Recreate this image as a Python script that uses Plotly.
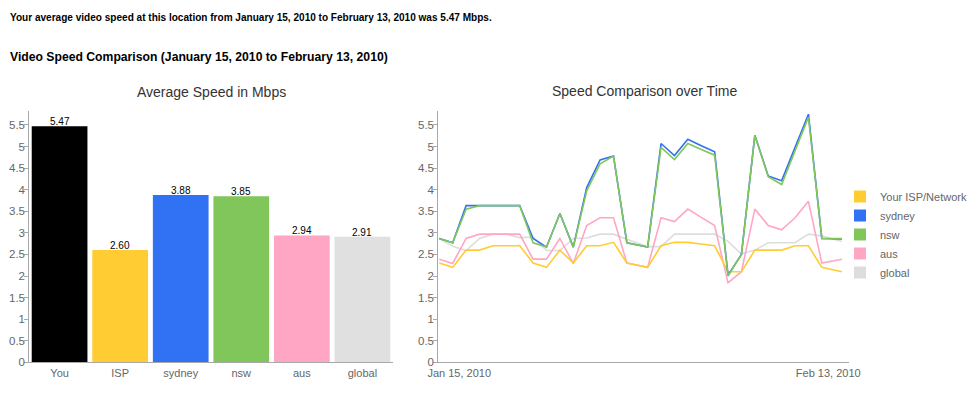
import plotly.graph_objects as go

# ---------------- data ----------------
categories = ["You", "ISP", "sydney", "nsw", "aus", "global"]
avg_speed = [5.47, 2.60, 3.88, 3.85, 2.94, 2.91]
bar_colors = ["#000000", "#FFCC33", "#3072F3", "#80C65A", "#FFA6C5", "#E0E0E0"]

# day offsets from Jan 15, 2010 (spacing is irregular)
day_offset = [0, 1, 2, 3, 4, 5, 6, 7, 8, 9, 10, 11, 12, 13, 14,
              15.55, 16.55, 17.55, 18.55, 19.55, 20.55, 21.55, 22.55, 23.55,
              24.55, 25.55, 26.55, 27.55, 28.55, 30.05]

isp = [2.30, 2.20, 2.60, 2.60, 2.70, 2.70, 2.70, 2.30, 2.20, 2.60,
       2.30, 2.70, 2.70, 2.78, 2.30, 2.20, 2.70, 2.78, 2.78, 2.74,
       2.70, 2.10, 2.10, 2.60, 2.60, 2.60, 2.70, 2.70, 2.20, 2.10]
sydney = [2.87, 2.77, 3.63, 3.63, 3.63, 3.63, 3.63, 2.87, 2.67, 3.45,
          2.67, 4.05, 4.69, 4.78, 2.77, 2.67, 5.07, 4.79, 5.17, 5.02,
          4.88, 2.02, 2.50, 5.26, 4.32, 4.21, 5.00, 5.75, 2.87, 2.86]
nsw = [2.87, 2.77, 3.55, 3.63, 3.63, 3.63, 3.63, 2.77, 2.67, 3.45,
       2.67, 3.97, 4.60, 4.78, 2.77, 2.67, 4.98, 4.70, 5.07, 4.93,
       4.80, 2.00, 2.50, 5.26, 4.30, 4.12, 4.90, 5.68, 2.87, 2.87]
aus = [2.39, 2.29, 2.87, 2.97, 2.97, 2.97, 2.97, 2.39, 2.39, 2.87,
       2.29, 3.17, 3.35, 3.35, 2.30, 2.20, 3.35, 3.26, 3.55, 3.36,
       3.17, 1.84, 2.10, 3.55, 3.17, 3.07, 3.35, 3.73, 2.30, 2.39]
global_ = [2.87, 2.69, 2.59, 2.87, 2.97, 2.97, 2.89, 2.90, 2.59, 2.59,
           2.87, 2.88, 2.97, 2.97, 2.85, 2.68, 2.68, 2.97, 2.97, 2.97,
           2.97, 2.80, 2.51, 2.60, 2.77, 2.77, 2.77, 2.97, 2.93, 2.80]

series_names = ["Your ISP/Network", "sydney", "nsw", "aus", "global"]
series_values = [isp, sydney, nsw, aus, global_]
series_colors = ["#FFCC33", "#3072F3", "#80C65A", "#FFA6C5", "#DDDDDD"]
draw_order = [4, 3, 0, 1, 2]  # global, aus, ISP, sydney, nsw

time_tickvals = [1.49, 29.03]
time_ticktext = ["Jan 15, 2010", "Feb 13, 2010"]

summary_text = ("Your average video speed at this location from January 15, 2010 "
                "to February 13, 2010 was 5.47 Mbps.")
heading_text = "Video Speed Comparison (January 15, 2010 to February 13, 2010)"
left_title = "Average Speed in Mbps"
right_title = "Speed Comparison over Time"

# ---------------- figure ----------------
FONT = "Liberation Sans, Arial, sans-serif"
OFF = 8                      # page body margin of the generated html
W, H = 978 - OFF, 398 - OFF  # figure size so it ends at the window edge


def px(x):
    return (x - OFF) / W


def py(y):
    return 1 - (y - OFF) / H


fig = go.Figure()

fig.add_trace(go.Bar(
    x=categories, y=avg_speed, marker=dict(color=bar_colors, line=dict(width=0)),
    xaxis="x", yaxis="y", showlegend=False, hoverinfo="x+y",
))

for i in draw_order:
    fig.add_trace(go.Scatter(
        x=day_offset, y=series_values[i], mode="lines",
        line=dict(color=series_colors[i], width=1.6),
        name=series_names[i], xaxis="x2", yaxis="y2", showlegend=False,
    ))

# legend swatches (square keys like the original)
for i in range(len(series_names)):
    fig.add_trace(go.Scatter(
        x=[None], y=[None], mode="markers",
        marker=dict(symbol="square", size=12, color=series_colors[i]),
        name=series_names[i], xaxis="x2", yaxis="y2", showlegend=True,
    ))

ydom = [py(362.3), py(111.0)]
yrange = [0, 5.824]
axis_col = "#A8A8A8"
tick_font = dict(size=11.5, color="#666666", family=FONT)

# value labels sitting on top of each bar
value_labels = [
    dict(x=c, y=v, xref="x", yref="y", text=f"{v:.2f}", showarrow=False,
         xanchor="center", yanchor="bottom", yshift=-3,
         font=dict(size=10, color="#000000", family=FONT))
    for c, v in zip(categories, avg_speed)
]

fig.update_layout(
    width=W, height=H, autosize=False,
    margin=dict(l=0, r=0, t=0, b=0),
    paper_bgcolor="white", plot_bgcolor="white",
    font=dict(family=FONT, color="#666666"),
    bargap=0.08,
    xaxis=dict(domain=[px(29.3), px(392.7)], range=[-0.5, 5.5],
               showline=True, linecolor=axis_col, linewidth=1,
               showgrid=False, zeroline=False, ticks="", automargin=False,
               tickfont=dict(size=11, color="#666666", family=FONT),
               fixedrange=True),
    yaxis=dict(domain=ydom, range=yrange, dtick=0.5, tick0=0,
               showline=True, linecolor=axis_col, linewidth=1,
               showgrid=False, zeroline=False, ticks="outside", automargin=False,
               ticklen=4, tickcolor=axis_col, tickfont=tick_font,
               ticklabelstandoff=-3, fixedrange=True),
    xaxis2=dict(domain=[px(438.3), px(849.3)], range=[-0.075, 30.6],
                anchor="y2", showline=True, linecolor=axis_col, linewidth=1,
                showgrid=False, zeroline=False, ticks="", automargin=False,
                tickvals=time_tickvals, ticktext=time_ticktext,
                tickfont=dict(size=11, color="#666666", family=FONT),
                fixedrange=True),
    yaxis2=dict(domain=ydom, range=yrange, dtick=0.5, tick0=0,
                anchor="x2", showline=True, linecolor=axis_col, linewidth=1,
                showgrid=False, zeroline=False, ticks="outside", automargin=False,
                ticklen=4, tickcolor=axis_col, tickfont=tick_font,
                ticklabelstandoff=-3, fixedrange=True),
    legend=dict(x=px(840), y=py(234.5), xanchor="left", yanchor="middle",
                font=dict(size=11, color="#666666", family=FONT),
                bgcolor="rgba(0,0,0,0)", borderwidth=0),
    annotations=value_labels + [
        dict(text="<b>" + summary_text + "</b>", x=px(8), y=py(17.3),
             xref="paper", yref="paper", xanchor="left", yanchor="middle",
             showarrow=False,
             font=dict(size=10.05, color="#000000", family=FONT)),
        dict(text="<b>" + heading_text + "</b>", x=px(8), y=py(56.7),
             xref="paper", yref="paper", xanchor="left", yanchor="middle",
             showarrow=False, font=dict(size=12.2, color="#000000", family=FONT)),
        dict(text=left_title, x=px(211), y=py(91.7),
             xref="paper", yref="paper", xanchor="center", yanchor="middle",
             showarrow=False, font=dict(size=14, color="#333333", family=FONT)),
        dict(text=right_title, x=px(644.5), y=py(91.3),
             xref="paper", yref="paper", xanchor="center", yanchor="middle",
             showarrow=False, font=dict(size=14, color="#333333", family=FONT)),
    ],
)

fig.write_html("out.html")
